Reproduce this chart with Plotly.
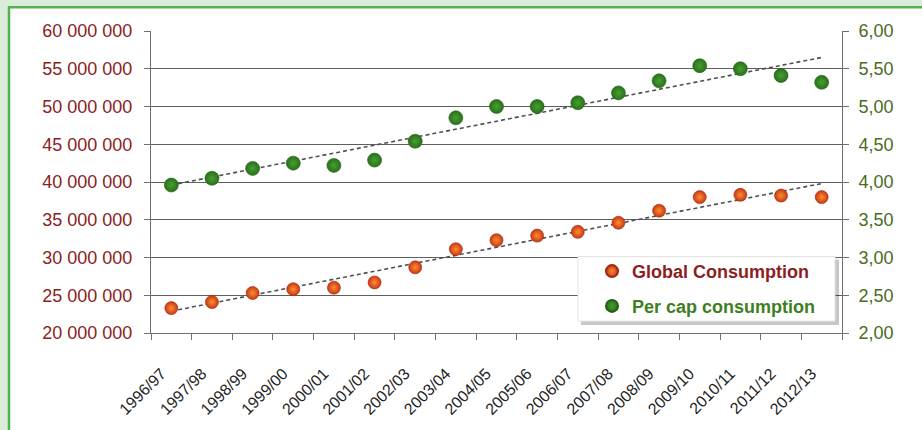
import numpy as np
import plotly.graph_objects as go

seasons = ["1996/97", "1997/98", "1998/99", "1999/00", "2000/01", "2001/02",
           "2002/03", "2003/04", "2004/05", "2005/06", "2006/07", "2007/08",
           "2008/09", "2009/10", "2010/11", "2011/12", "2012/13"]
global_consumption = [23_300_000, 24_100_000, 25_300_000, 25_800_000, 26_000_000,
                      26_700_000, 28_700_000, 31_100_000, 32_300_000, 32_900_000,
                      33_400_000, 34_600_000, 36_200_000, 38_000_000, 38_300_000,
                      38_200_000, 38_000_000]
per_cap = [3.96, 4.05, 4.18, 4.25, 4.22, 4.29, 4.54, 4.85, 5.00, 5.00,
           5.05, 5.18, 5.34, 5.54, 5.50, 5.41, 5.32]

FONT = "Liberation Sans, Arial, sans-serif"
RED_TXT = "#8b1e1e"
GREEN_TXT = "#4a6b23"
BG = "#dbebd9"

# plot-area geometry in pixels (for decoration placement)
W, H = 922, 430
L, R, T, B = 151, 80, 31, 95
PW, PH = W - L - R, H - T - B


def px_x(p):
    return (p - L) / PW


def px_y(p):
    return (H - B - p) / PH


idx = np.arange(len(seasons))
g_fit = np.polyval(np.polyfit(idx, global_consumption, 1), [idx[0], idx[-1]])
p_fit = np.polyval(np.polyfit(idx, per_cap, 1), [idx[0], idx[-1]])
trend_x = [seasons[0], seasons[-1]]

fig = go.Figure()

fig.add_trace(go.Scatter(
    x=trend_x, y=g_fit, mode="lines", showlegend=False, hoverinfo="skip",
    line=dict(color="#505050", width=1.6, dash="4px,3px")))
fig.add_trace(go.Scatter(
    x=trend_x, y=p_fit, mode="lines", showlegend=False, hoverinfo="skip",
    yaxis="y2", line=dict(color="#505050", width=1.6, dash="4px,3px")))

fig.add_trace(go.Scatter(
    x=seasons, y=global_consumption, mode="markers", name="Global Consumption",
    legend="legend",
    marker=dict(size=13, color="#cf3515",
                gradient=dict(type="radial", color="#f7922f"),
                line=dict(color="#9a2a10", width=0.6))))
fig.add_trace(go.Scatter(
    x=seasons, y=per_cap, mode="markers", name="Per cap consumption",
    yaxis="y2", legend="legend2",
    marker=dict(size=14, color="#2b701c",
                gradient=dict(type="radial", color="#45a030"),
                line=dict(color="#245f18", width=0.6))))

shapes = [
    # white panel with green frame
    dict(type="rect", xref="paper", yref="paper", layer="below",
         x0=px_x(9), x1=px_x(940), y0=px_y(450), y1=px_y(7),
         fillcolor="white", line=dict(color="#56b04f", width=2.5)),
    # legend box shadow
    dict(type="rect", xref="paper", yref="paper", layer="above",
         x0=px_x(581), x1=px_x(839), y0=px_y(327), y1=px_y(261),
         fillcolor="rgba(0,0,0,0.22)", line=dict(width=0)),
    # legend box
    dict(type="rect", xref="paper", yref="paper", layer="above",
         x0=px_x(578), x1=px_x(835), y0=px_y(323), y1=px_y(258),
         fillcolor="white", line=dict(color="#e4e4e4", width=1)),
]

axis_line = "#707070"
fig.update_layout(
    width=W, height=H,
    margin=dict(l=L, r=R, t=T, b=B, pad=0),
    paper_bgcolor=BG,
    plot_bgcolor="white",
    separators=", ",
    font=dict(family=FONT),
    shapes=shapes,
    xaxis=dict(type="category", categoryorder="array", categoryarray=seasons,
               range=[-0.5, len(seasons) - 0.5],
               showline=True, linecolor=axis_line, linewidth=1,
               ticks="outside", tickson="boundaries", ticklen=6,
               tickcolor=axis_line, tickangle=-45, showgrid=False,
               ticklabelstandoff=24, ticklabelshift=-10,
               tickfont=dict(family=FONT, size=16, color="#222222")),
    yaxis=dict(range=[20_000_000, 60_000_000], dtick=5_000_000, tickformat=",d",
               showgrid=True, gridcolor="#5e5e5e", gridwidth=1, zeroline=False,
               showline=True, linecolor=axis_line, ticks="outside", ticklen=6,
               tickcolor=axis_line, ticklabelstandoff=8,
               tickfont=dict(family=FONT, size=18, color=RED_TXT)),
    yaxis2=dict(range=[2, 6], dtick=0.5, tickformat=".2f", overlaying="y",
                side="right", showgrid=False, zeroline=False,
                showline=True, linecolor=axis_line, ticks="outside", ticklen=6,
                tickcolor=axis_line, ticklabelstandoff=6,
                tickfont=dict(family=FONT, size=18, color=GREEN_TXT)),
    legend=dict(x=px_x(592), y=px_y(273), xanchor="left", yanchor="middle",
                bgcolor="rgba(0,0,0,0)", itemsizing="constant",
                font=dict(family=FONT, size=18, color=RED_TXT, weight=700)),
    legend2=dict(x=px_x(592), y=px_y(308), xanchor="left", yanchor="middle",
                 bgcolor="rgba(0,0,0,0)", itemsizing="constant",
                 font=dict(family=FONT, size=18, color="#3d7f22", weight=700)),
)

fig.write_html(
    "out.html",
    config={"displayModeBar": False},
    post_script=("document.body.style.margin='0';"
                 "document.body.style.background='" + BG + "';"),
)
